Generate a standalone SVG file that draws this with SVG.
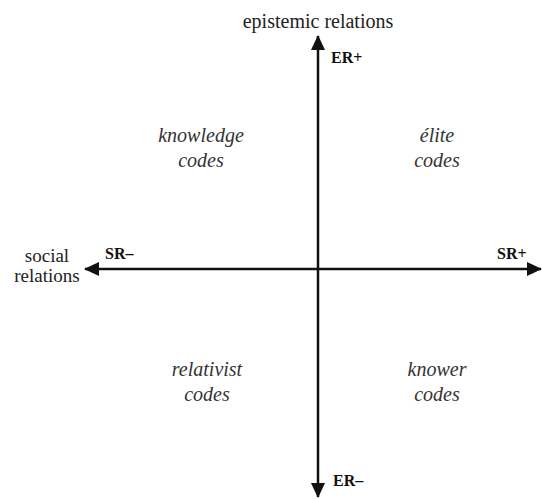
<svg xmlns="http://www.w3.org/2000/svg" width="542" height="499" viewBox="0 0 542 499">
<style>
.axis{stroke:#111;stroke-width:2.5;fill:none}
</style>
<defs>
<marker id="ah" viewBox="0 0 15 14" refX="14" refY="7" markerWidth="15" markerHeight="14" markerUnits="userSpaceOnUse" orient="auto">
<path d="M0,0 L15,7 L0,14 z" fill="#111"/>
</marker>
</defs>
<rect width="542" height="499" fill="#fff"/>
<g id="connectors">
<line class="axis" x1="318" y1="269" x2="318" y2="36" marker-end="url(#ah)"/>
<line class="axis" x1="318" y1="269" x2="318" y2="497" marker-end="url(#ah)"/>
<line class="axis" x1="318" y1="269" x2="541" y2="269" marker-end="url(#ah)"/>
<line class="axis" x1="318" y1="269" x2="85" y2="269" marker-end="url(#ah)"/>
</g>
<g id="axis-labels">
<text x="318" y="28" font-size="20" font-family="Liberation Serif" text-anchor="middle" fill="#222">epistemic relations</text>
<text x="47" y="262" font-size="19" font-family="Liberation Serif" text-anchor="middle" fill="#222">social</text>
<text x="47" y="282" font-size="19" font-family="Liberation Serif" text-anchor="middle" fill="#222">relations</text>
</g>
<g id="poles">
<text x="331" y="63" font-size="16" font-family="Liberation Serif" font-weight="bold" fill="#111">ER+</text>
<text x="333" y="486" font-size="16" font-family="Liberation Serif" font-weight="bold" fill="#111">ER–</text>
<text x="105" y="259" font-size="16" font-family="Liberation Serif" font-weight="bold" fill="#111">SR–</text>
<text x="497" y="259" font-size="16" font-family="Liberation Serif" font-weight="bold" fill="#111">SR+</text>
</g>
<g id="knowledge">
<text x="201" y="142" font-size="20" font-family="Liberation Serif" font-style="italic" text-anchor="middle" fill="#333">knowledge</text>
<text x="201" y="167" font-size="20" font-family="Liberation Serif" font-style="italic" text-anchor="middle" fill="#333">codes</text>
</g>
<g id="elite">
<text x="437" y="142" font-size="20" font-family="Liberation Serif" font-style="italic" text-anchor="middle" fill="#333">élite</text>
<text x="437" y="167" font-size="20" font-family="Liberation Serif" font-style="italic" text-anchor="middle" fill="#333">codes</text>
</g>
<g id="relativist">
<text x="207" y="376" font-size="20" font-family="Liberation Serif" font-style="italic" text-anchor="middle" fill="#333">relativist</text>
<text x="207" y="401" font-size="20" font-family="Liberation Serif" font-style="italic" text-anchor="middle" fill="#333">codes</text>
</g>
<g id="knower">
<text x="437" y="376" font-size="20" font-family="Liberation Serif" font-style="italic" text-anchor="middle" fill="#333">knower</text>
<text x="437" y="401" font-size="20" font-family="Liberation Serif" font-style="italic" text-anchor="middle" fill="#333">codes</text>
</g>
</svg>
